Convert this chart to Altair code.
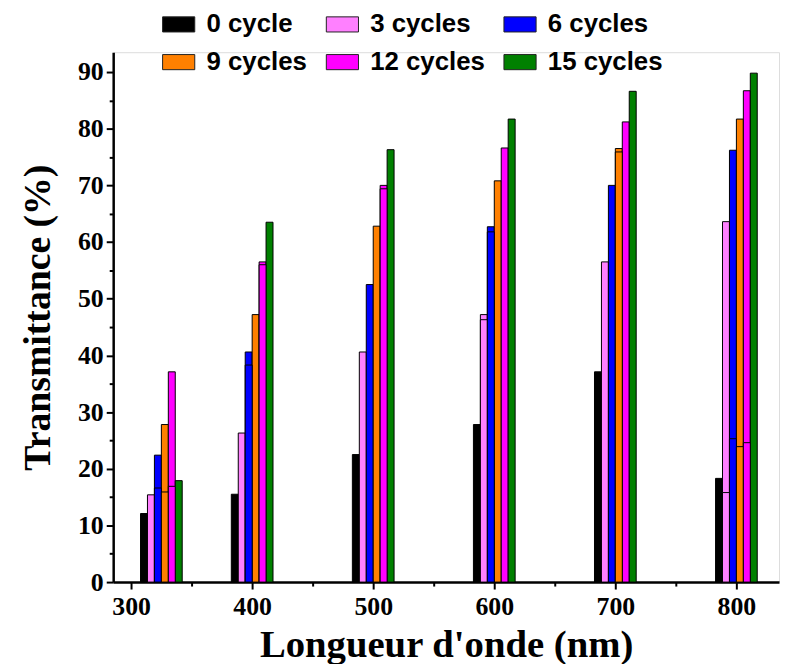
import altair as alt
import pandas as pd

wavelengths = [325, 400, 500, 600, 700, 800]
x_ticks = [300, 350, 400, 450, 500, 550, 600, 650, 700, 750, 800]
y_ticks = [0, 5, 10, 15, 20, 25, 30, 35, 40, 45, 50, 55, 60, 65, 70, 75, 80, 85, 90]
series = ["0 cycle", "3 cycles", "6 cycles", "9 cycles", "12 cycles", "15 cycles"]
colors = ["#000000", "#FF80FF", "#0000FF", "#FF8000", "#FF00FF", "#008000"]

cycle0 = [12.1, 15.5, 22.5, 27.8, 37.1, 18.3]
cycle3 = [15.4, 26.3, 40.6, 47.2, 56.5, 63.6]
cycle6 = [22.4, 40.6, 52.5, 62.7, 70.0, 76.2]
cycle9 = [27.8, 47.2, 62.8, 70.8, 76.5, 81.7]
cycle12 = [37.1, 56.5, 70.0, 76.6, 81.2, 86.7]
cycle15 = [17.9, 63.5, 76.3, 81.7, 86.6, 89.8]

# lower overlapping bars visible as inner edges
inner3 = [None, None, None, 46.3, None, 15.8]
inner6 = [16.6, 38.3, None, 61.8, None, 25.3]
inner9 = [15.9, None, None, None, 75.9, 23.9]
inner12 = [16.9, 56.0, 69.4, None, None, 24.6]

main_vals = [cycle0, cycle3, cycle6, cycle9, cycle12, cycle15]
inner_vals = [[None] * 6, inner3, inner6, inner9, inner12, [None] * 6]

rows, irows = [], []
for i, s in enumerate(series):
    for j, wl in enumerate(wavelengths):
        rows.append({"wl": wl, "idx": i, "series": s, "T": main_vals[i][j]})
        if inner_vals[i][j] is not None:
            irows.append({"wl": wl, "idx": i, "series": s, "T": inner_vals[i][j]})
df = pd.DataFrame(rows)
dfi = pd.DataFrame(irows)

BW = 5.74
serif = "Liberation Serif"
sans = "Liberation Sans"

xscale = alt.Scale(domain=[285.2, 835.2], nice=False, zero=False)
yscale = alt.Scale(domain=[0, 93.5], nice=False)
cscale = alt.Scale(domain=series, range=colors)

xaxis = alt.Axis(values=x_ticks, title="Longueur d'onde (nm)", format="d",
                 labelExpr="datum.value % 100 === 0 ? datum.label : ''",
                 labelFont=serif, labelFontWeight="bold", labelFontSize=26, labelColor="black",
                 titleFont=serif, titleFontWeight="bold", titleFontSize=39, titleColor="black",
                 tickSize={"condition": {"test": "datum.value % 100 === 0", "value": 7}, "value": 4},
                 tickWidth=2, tickColor="black", domainWidth=2.5, domainColor="black",
                 labelPadding=5, titlePadding=6, grid=False, labelFlush=False, labelOverlap=False)
yaxis = alt.Axis(values=y_ticks, title="Transmittance (%)", format="d",
                 labelExpr="datum.value % 10 === 0 ? datum.label : ''",
                 labelFont=serif, labelFontWeight="bold", labelFontSize=26, labelColor="black",
                 titleFont=serif, titleFontWeight="bold", titleFontSize=38, titleColor="black",
                 tickSize={"condition": {"test": "datum.value % 10 === 0", "value": 7}, "value": 4},
                 tickWidth=2, tickColor="black", domainWidth=2.5, domainColor="black",
                 labelPadding=3, titlePadding=20, grid=False, labelOverlap=False)

legend = alt.Legend(title=None, orient="none", legendX=49, legendY=-45, columns=3,
                    direction="horizontal",
                    symbolType="M-1,-0.47H1V0.47H-1Z", symbolSize=1050,
                    symbolStrokeColor="#222222", symbolStrokeWidth=1, symbolOpacity=1,
                    labelFont=sans, labelFontWeight="bold", labelFontSize=26, labelColor="black",
                    labelOffset=11, columnPadding=16, rowPadding=8, labelLimit=300)

calc = dict(
    x0=f"datum.wl + (datum.idx - 3) * {BW}",
    x1=f"datum.wl + (datum.idx - 2) * {BW}",
)

bars = alt.Chart(df).transform_calculate(**calc).mark_bar(
    stroke="black", strokeWidth=1, opacity=1
).encode(
    x=alt.X("x0:Q", scale=xscale, axis=xaxis),
    x2="x1:Q",
    y=alt.Y("T:Q", scale=yscale, axis=yaxis),
    y2=alt.datum(0),
    color=alt.Color("series:N", scale=cscale, sort=series, legend=legend),
)

inner = alt.Chart(dfi).transform_calculate(**calc).mark_bar(
    stroke="black", strokeWidth=1, opacity=1
).encode(
    x=alt.X("x0:Q", scale=xscale, axis=xaxis),
    x2="x1:Q",
    y=alt.Y("T:Q", scale=yscale, axis=yaxis),
    y2=alt.datum(0),
    color=alt.Color("series:N", scale=cscale, sort=series, legend=None),
)

chart = alt.layer(bars, inner).properties(
    width=671, height=534,
    autosize=alt.AutoSizeParams(type="none"),
    padding={"left": 106, "top": 42, "right": 2, "bottom": 80},
).configure_view(stroke=None).configure(background="white")

chart.save("out.html", embed_options={"renderer": "svg", "actions": False})
